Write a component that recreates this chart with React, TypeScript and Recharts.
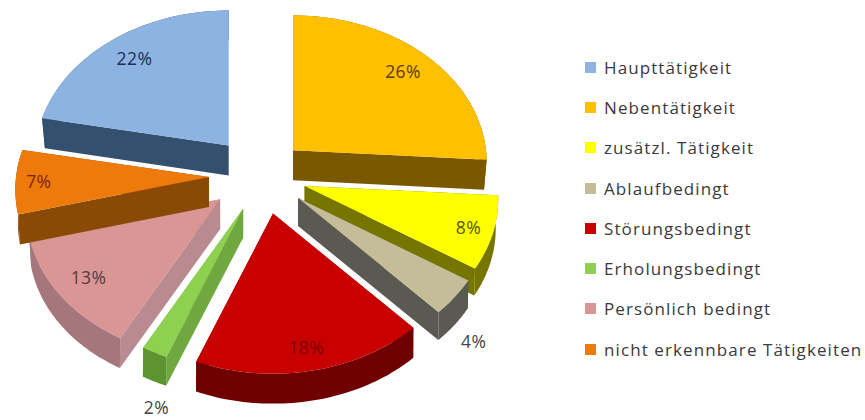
import { PieChart, Pie, Legend } from "recharts";

const categories = [
  "Haupttätigkeit",
  "Nebentätigkeit",
  "zusätzl. Tätigkeit",
  "Ablaufbedingt",
  "Störungsbedingt",
  "Erholungsbedingt",
  "Persönlich bedingt",
  "nicht erkennbare Tätigkeiten",
];
const shares = [22, 26, 8, 4, 18, 2, 13, 7];

const topColors = ["#8db3e2", "#ffc000", "#ffff00", "#c4bd97", "#c80000", "#8ed04f", "#d99694", "#ee7a0c"];
const sideColors = ["#34506f", "#7a5800", "#757500", "#5a5a52", "#6e0000", "#6fa83f", "#b98a8f", "#8a4a05"];
const arcColors = ["#34506f", "#7a5800", "#757500", "#5a5a52", "#700000", "#5d9432", "#a5767c", "#8a4a05"];
const labelColors = ["#1c2f55", "#5c3a00", "#555500", "#444444", "#7a0000", "#444444", "#5a3a40", "#7a2500"];

// how far each slice is pulled out, and small hand tweaks
const explode = [46, 48, 49, 52, 80, 35, 48, 49];
const lift = [-1, 2, 3, 2, -15, 14, 6, 4];
const depth = [30, 30, 27, 28, 30, 29, 30, 30];
const labelRadius = [0.82, 0.83, 0.87, 1.12, 0.85, 0.98, 0.82, 0.88];
const labelDrop = [0, 0, 0, 32, 0, 57, 0, 0];

const TILT_Y = 147.5 / 193;
const EXPLODE_Y = 0.72;
const PERSPECTIVE = 0.085;

const tableData = categories.map((name, i) => ({ name, value: shares[i], fill: topColors[i] }));

const rad = (d: number) => (d * Math.PI) / 180;

// apex of an exploded slice, then the tilted disk around it
function apexOf(cx: number, cy: number, mid: number, i: number) {
  return {
    x: cx + explode[i] * Math.cos(rad(mid)),
    y: cy - explode[i] * Math.sin(rad(mid)) * EXPLODE_Y + lift[i],
  };
}

function project(apex: { x: number; y: number }, angle: number, r: number, drop = 0) {
  const u = Math.cos(rad(angle));
  const v = -Math.sin(rad(angle));
  const s = 1 + PERSPECTIVE * v;
  const shrink = drop ? 0.985 + 0.02 * Math.max(0, v) : 1;
  return {
    x: apex.x + u * r * s * shrink,
    y: apex.y + v * r * TILT_Y * s + drop,
  };
}

function arcPoints(apex: { x: number; y: number }, a0: number, a1: number, r: number, drop = 0) {
  const n = 48;
  const pts = [];
  for (let k = 0; k <= n; k++) {
    pts.push(project(apex, a0 + ((a1 - a0) * k) / n, r, drop));
  }
  return pts;
}

const toPath = (pts: { x: number; y: number }[]) =>
  "M" + pts.map((p) => `${p.x.toFixed(1)},${p.y.toFixed(1)}`).join("L") + "Z";

function Slice3D(props: any) {
  const { cx, cy, startAngle, endAngle, outerRadius, name } = props;
  const i = categories.indexOf(name);
  const apex = apexOf(cx, cy, (startAngle + endAngle) / 2, i);
  const low = { x: apex.x, y: apex.y + depth[i] };
  const arc = arcPoints(apex, startAngle, endAngle, outerRadius);
  const arcLow = arcPoints(apex, startAngle, endAngle, outerRadius, depth[i]);
  const first = arc[0];
  const last = arc[arc.length - 1];
  const firstLow = arcLow[0];
  const lastLow = arcLow[arcLow.length - 1];
  return (
    <g>
      <path d={toPath([apex, first, firstLow, low])} fill={sideColors[i]} />
      <path d={toPath([apex, last, lastLow, low])} fill={sideColors[i]} />
      <path d={toPath([...arc, ...[...arcLow].reverse()])} fill={arcColors[i]} />
      <path d={toPath([apex, ...arc])} fill={topColors[i]} />
    </g>
  );
}

function sliceLabel(props: any) {
  const { cx, cy, midAngle, outerRadius, name } = props;
  const i = categories.indexOf(name);
  const apex = apexOf(cx, cy, midAngle, i);
  const p = project(apex, midAngle, outerRadius * labelRadius[i]);
  return (
    <text
      x={p.x}
      y={p.y + labelDrop[i]}
      textAnchor="middle"
      dominantBaseline="central"
      fontFamily="Open Sans"
      fontSize={17.5}
      letterSpacing={0.4}
      fill={labelColors[i]}
    >
      {shares[i]}%
    </text>
  );
}

function LegendList({ payload }: any) {
  return (
    <div style={{ fontFamily: "Open Sans", fontSize: 17, letterSpacing: 1.1, color: "#3a3a3a" }}>
      {(payload || []).map((entry: any) => (
        <div key={entry.value} style={{ height: 40.3, display: "flex", alignItems: "center", whiteSpace: "nowrap" }}>
          <span style={{ width: 11, height: 11, background: entry.color, marginRight: 8, flex: "none" }} />
          {entry.value}
        </div>
      ))}
    </div>
  );
}

export default function App() {
  return (
    <div style={{ position: "absolute", left: 0, top: 0, width: 865, height: 420, background: "#fff" }}>
      <PieChart width={865} height={420} margin={{ top: 0, right: 0, bottom: 0, left: 0 }}>
        <Pie
          data={tableData}
          dataKey="value"
          nameKey="name"
          cx={258}
          cy={172}
          innerRadius={0}
          outerRadius={193}
          startAngle={169.2}
          endAngle={-190.8}
          stroke="none"
          shape={Slice3D}
          label={sliceLabel}
          labelLine={false}
          isAnimationActive={false}
        />
        <Legend
          layout="vertical"
          align="right"
          verticalAlign="middle"
          itemSorter={null}
          wrapperStyle={{ left: 585, top: 47, width: 280 }}
          content={LegendList}
        />
      </PieChart>
    </div>
  );
}
